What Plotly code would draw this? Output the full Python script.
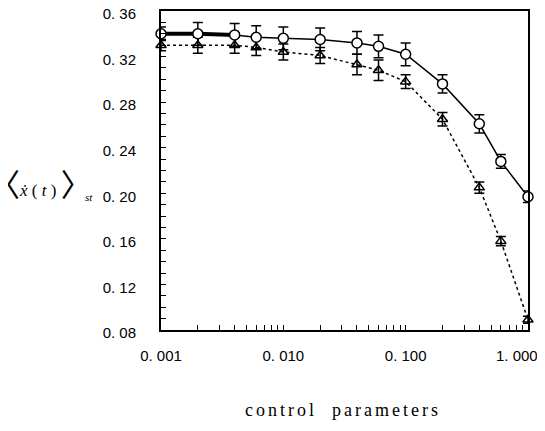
import plotly.graph_objects as go

# data
x_vals = [0.001, 0.002, 0.004, 0.006, 0.01, 0.02, 0.04, 0.06, 0.1, 0.2, 0.4, 0.6, 1.0]
circle_y = [0.340, 0.340, 0.339, 0.337, 0.336, 0.335, 0.332, 0.329, 0.322, 0.296, 0.261, 0.228, 0.197]
circle_err = [0.006, 0.010, 0.010, 0.010, 0.010, 0.010, 0.010, 0.010, 0.010, 0.008, 0.008, 0.006, 0.005]
tri_y = [0.330, 0.330, 0.330, 0.328, 0.324, 0.321, 0.313, 0.308, 0.298, 0.265, 0.205, 0.158, 0.089]
tri_err = [0.005, 0.007, 0.007, 0.007, 0.007, 0.007, 0.009, 0.009, 0.006, 0.006, 0.005, 0.004, 0.003]

x_ticks = [0.001, 0.01, 0.1, 1.0]
x_tick_labels = ["0. 001", "0. 010", "0. 100", "1. 000"]
y_ticks = [0.08, 0.12, 0.16, 0.20, 0.24, 0.28, 0.32, 0.36]
y_tick_labels = ["0. 08", "0. 12", "0. 16", "0. 20", "0. 24", "0. 28", "0. 32", "0. 36"]

# minor tick positions (styling helpers); last x label drawn separately at the edge
x_minor = [round(m * d, 6) for d in (0.001, 0.01, 0.1) for m in range(1, 10)] + [1.0]
x_minor_text = [x_tick_labels[x_ticks.index(v)] if v in x_ticks[:-1] else "" for v in x_minor]
y_minor = [round(0.08 + 0.01 * i, 2) for i in range(29)]
y_minor_text = [y_tick_labels[y_ticks.index(v)] if v in y_ticks else "" for v in y_minor]

fig = go.Figure()

# thick segment at the start of the circle series
fig.add_trace(go.Scatter(x=x_vals[:3], y=circle_y[:3], mode="lines",
                         line=dict(color="black", width=4), showlegend=False,
                         cliponaxis=False))

fig.add_trace(go.Scatter(
    x=x_vals, y=tri_y, mode="lines+markers", cliponaxis=False,
    line=dict(color="black", width=1.5, dash="dot"),
    marker=dict(symbol="triangle-up-open", size=9, color="black", line=dict(width=1.5)),
    error_y=dict(type="data", array=tri_err, color="black", thickness=1.5, width=5),
    showlegend=False))

fig.add_trace(go.Scatter(
    x=x_vals, y=circle_y, mode="lines+markers", cliponaxis=False,
    line=dict(color="black", width=1.5),
    marker=dict(symbol="circle", size=10, color="white", line=dict(width=1.5, color="black")),
    error_y=dict(type="data", array=circle_err, color="black", thickness=1.5, width=5),
    showlegend=False))

tick_font = dict(family="Liberation Sans, Arial", size=15, color="black")
fig.update_xaxes(type="log", range=[-3.0001, 0.0001], tickvals=x_minor,
                 ticktext=x_minor_text, ticks="inside", ticklen=5, tickwidth=1.2,
                 tickcolor="black", showline=True, linecolor="black", linewidth=2,
                 mirror=True, showgrid=False, zeroline=False, automargin=False,
                 ticklabeloverflow="allow", ticklabelstandoff=11, tickfont=tick_font)
fig.update_yaxes(range=[0.08, 0.36], tickvals=y_minor, ticktext=y_minor_text,
                 ticks="inside", ticklen=5, tickwidth=1.2, tickcolor="black",
                 showline=True, linecolor="black", linewidth=2, mirror=True,
                 showgrid=False, zeroline=False, automargin=False,
                 ticklabeloverflow="allow", ticklabelstandoff=20, ticklabelshift=3,
                 tickfont=tick_font)

# last x tick label, right-aligned near the page edge
fig.add_annotation(xref="paper", yref="paper", x=1.0, y=0, xshift=12, yshift=-25,
                   xanchor="right", yanchor="middle", showarrow=False,
                   text=x_tick_labels[-1], font=tick_font)

fig.add_annotation(xref="paper", yref="paper", x=0.496, y=-0.251, xanchor="center",
                   yanchor="middle", showarrow=False,
                   text="<span style='letter-spacing:3px'>control&nbsp;&nbsp;parameters</span>",
                   font=dict(family="Liberation Serif, Times New Roman", size=18, color="black"))

bracket_style = "font-size:31px;font-family:Noto Sans CJK JP"
fig.add_annotation(xref="paper", yref="paper", x=-0.328, y=0.461, xanchor="center",
                   yanchor="middle", showarrow=False,
                   text=(f"<span style='{bracket_style}'>〈</span><i>ẋ</i> ( <i>t</i> ) "
                         f"<span style='{bracket_style}'>〉</span>"),
                   font=dict(family="Liberation Serif, Times New Roman", size=17, color="black"))
fig.add_annotation(xref="paper", yref="paper", x=-0.197, y=0.418, xanchor="center",
                   yanchor="middle", showarrow=False, text="<i>st</i>",
                   font=dict(family="Liberation Serif, Times New Roman", size=11, color="black"))

# page body adds an 8px offset; size and margins compensate for it
fig.update_layout(width=537, height=423, margin=dict(l=153, r=17, t=3, b=101),
                  plot_bgcolor="white", paper_bgcolor="white")

fig.write_html("out.html")
